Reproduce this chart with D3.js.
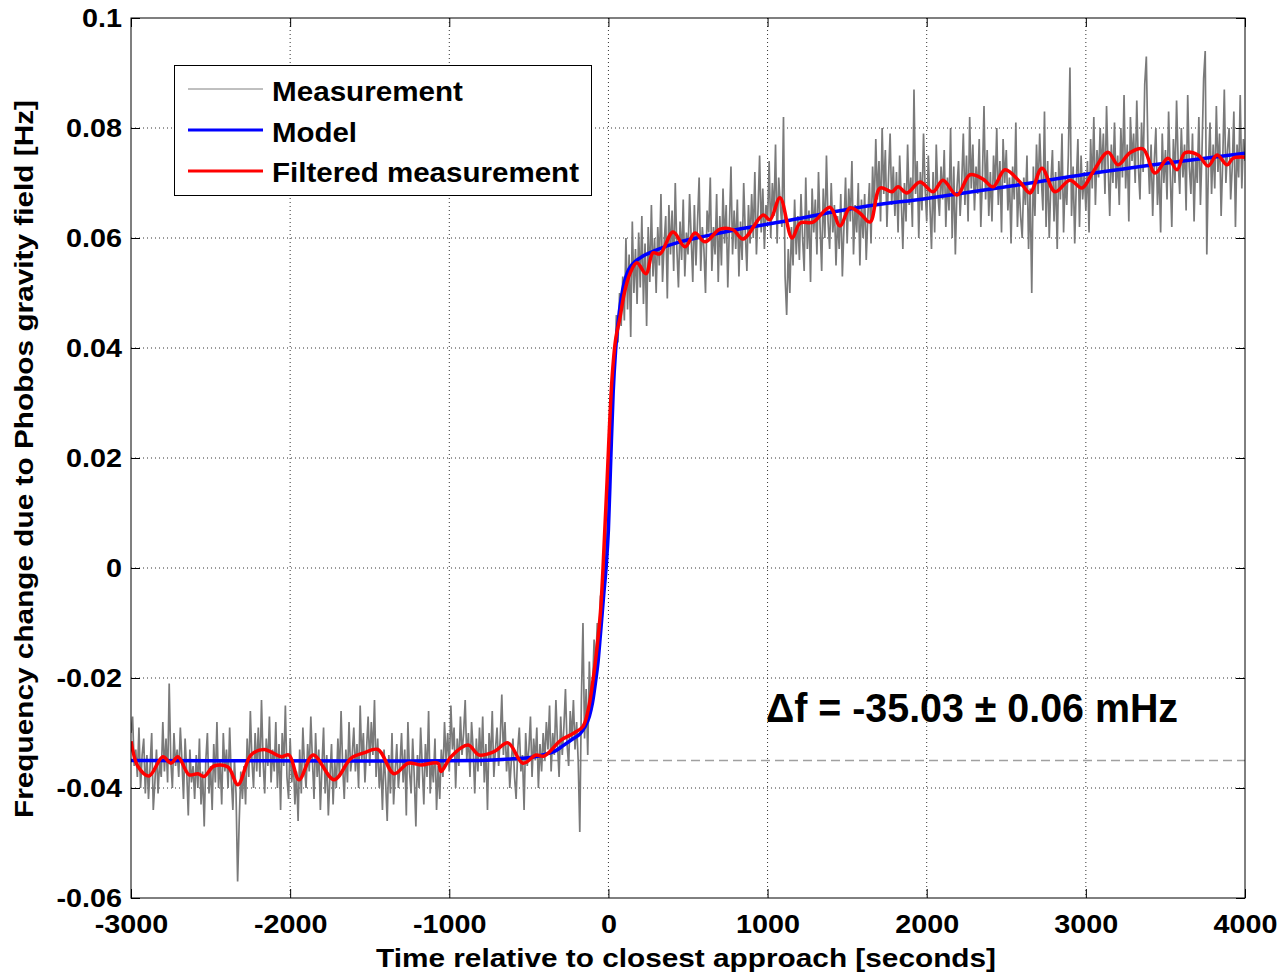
<!DOCTYPE html>
<html><head><meta charset="utf-8">
<script src="https://cdnjs.cloudflare.com/ajax/libs/d3/7.8.5/d3.min.js"></script>
<style>
body{margin:0;background:#fff}
svg{display:block}
text{font-family:"Liberation Sans",Arial,sans-serif;font-weight:bold;fill:#000}
</style>
</head><body>
<svg id="chart" width="1281" height="974"></svg>
<script>
// ---------- data ----------
const xTicks = [-3000,-2000,-1000,0,1000,2000,3000,4000];
const xTickLabels = ["-3000","-2000","-1000","0","1000","2000","3000","4000"];
const yTicks = [-0.06,-0.04,-0.02,0,0.02,0.04,0.06,0.08,0.1];
const yTickLabels = ["-0.06","-0.04","-0.02","0","0.02","0.04","0.06","0.08","0.1"];
const xTitle = "Time relative to closest approach [seconds]";
const yTitle = "Frequency change due to Phobos gravity field [Hz]";
const legendLabels = ["Measurement","Model","Filtered measurement"];
const annotation = "\u0394f = -35.03 \u00b1 0.06 mHz";
const referenceLevel = -0.035;   // Hz

// measurement, sampled every 10 s from -3000 s, values in mHz
const measStart = -3000, measStep = 10;
const measurement_mHz = [
-30,-27,-36,-33,-38,-29,-40,-34,-31,-41,
-34,-42,-36,-30,-44,-39,-33,-41,-35,-38,
-28,-37,-31,-39,-21,-35,-40,-30,-36,-33,
-38,-29,-35,-42,-31,-37,-45,-33,-39,-36,
-42,-34,-40,-31,-43,-37,-47,-35,-30,-41,
-36,-44,-32,-39,-28,-40,-35,-43,-30,-37,
-33,-40,-29,-38,-44,-35,-41,-57,-46,-37,
-42,-36,-43,-31,-38,-26,-35,-40,-30,-37,
-29,-38,-24,-35,-41,-31,-36,-27,-39,-33,
-37,-28,-40,-32,-44,-30,-36,-25,-38,-42,
-31,-39,-35,-43,-37,-46,-33,-41,-29,-36,
-40,-32,-37,-27,-35,-42,-30,-38,-33,-44,
-36,-29,-41,-34,-45,-38,-32,-43,-35,-40,
-31,-38,-26,-36,-42,-33,-39,-28,-37,-34,
-29,-37,-32,-40,-25,-35,-30,-39,-33,-27,
-36,-28,-34,-24,-38,-31,-40,-35,-44,-33,
-39,-46,-34,-41,-30,-43,-37,-32,-40,-36,
-30,-39,-33,-45,-28,-37,-41,-31,-38,-47,
-34,-40,-29,-36,-43,-32,-38,-26,-41,-35,
-39,-31,-44,-36,-42,-33,-38,-28,-35,-30,
-37,-25,-33,-29,-40,-31,-36,-27,-34,-30,
-24,-35,-30,-38,-28,-33,-41,-31,-37,-29,
-36,-27,-39,-32,-44,-30,-35,-26,-38,-33,
-29,-36,-31,-23,-34,-28,-37,-32,-40,-35,
-31,-38,-42,-33,-29,-37,-34,-44,-30,-36,
-33,-27,-38,-31,-35,-29,-40,-32,-37,-30,
-35,-28,-33,-25,-37,-30,-34,-24,-32,-38,
-27,-34,-29,-22,-32,-36,-26,-31,-24,-33,
-28,-35,-48,-24,-10,-31,-22,-34,-17,-26,
-22,-13,-18,-10,-14,-5,-9,-3,3,6,
12,22,25,36,37,46,41,50,44,53,
45,60,47,57,42,63,50,58,48,61,
51,64,48,59,44,62,52,66,53,60,
50,62,55,68,52,59,64,49,66,57,
65,54,70,58,51,63,56,67,53,61,
57,68,60,52,66,55,63,71,54,62,
58,50,65,61,71,54,62,57,68,52,
64,55,69,59,66,51,62,73,57,65,
58,67,53,63,56,70,61,54,66,59,
68,60,72,57,65,75,61,69,58,66,
63,74,60,70,64,77,59,71,66,62,
82,53,46,58,50,62,55,67,57,64,
56,68,60,54,71,58,65,52,69,61,
67,57,72,62,54,69,60,75,63,58,
70,61,66,55,64,58,68,53,62,71,
59,69,63,74,57,66,61,70,55,67,
60,68,56,64,70,59,73,65,78,67,
74,63,80,68,76,62,71,79,66,73,
64,72,61,75,67,58,70,63,77,66,
71,62,87,68,74,60,72,65,79,69,
63,75,66,58,72,61,77,68,64,73,
67,76,62,71,65,80,60,73,57,69,
74,64,70,79,66,75,63,82,69,77,
65,73,68,78,62,71,84,67,76,64,
72,63,75,69,80,66,74,61,78,70,
76,65,71,59,73,67,81,62,70,64,
60,71,66,75,58,69,50,73,64,77,
68,79,71,65,83,62,74,60,70,76,
63,72,58,74,67,79,61,71,66,75,
91,64,73,59,70,78,62,75,67,72,
65,74,61,78,69,82,66,76,71,80,
72,79,68,84,73,64,77,70,81,69,
75,66,80,71,86,69,77,63,82,74,
79,70,85,73,67,81,72,88,93,76,
68,77,64,74,80,66,73,61,79,70,
76,67,83,72,62,78,70,85,74,68,
80,71,77,65,86,73,68,79,63,75,
70,82,66,76,89,94,57,73,81,68,
77,69,84,72,79,64,74,87,70,76,
80,67,73,83,62,77,71,86,69,78,
74];

// model (s, mHz)
const modelTime  = [-3000,-1500,-800,-600,-480,-400,-330,-280,-220,-180,-150,-120,-100,-80,-65,-50,-30,-15,0,15,30,45,60,80,100,120,150,200,300,450,600,800,1078,1581,2000,2542,3000,3500,4000];
const modelValue = [-35.0,-35.1,-35.0,-34.7,-34.4,-33.9,-33.2,-32.2,-31.0,-30.2,-29.0,-27.0,-24.5,-20.5,-17.0,-12.0,-5.0,0,7,20,32,39.5,44.5,49,52,53.8,55.2,56.4,57.8,59.3,60.3,61.5,62.9,65.6,67.2,69.5,71.6,73.6,75.4];

// filtered measurement (s, mHz)
const filteredTime  = [-3000,-2956,-2887,-2800,-2749,-2705,-2635,-2580,-2541,-2478,-2391,-2328,-2246,-2164,-2057,-2007,-1944,-1856,-1724,-1618,-1536,-1448,-1347,-1259,-1178,-1071,-1052,-989,-882,-813,-719,-631,-537,-455,-405,-298,-216,-160,-125,-95,-70,-50,-34,-9,22,45,73,100,136,179,236,280,324,406,481,544,607,701,783,846,972,1015,1078,1154,1204,1286,1392,1455,1518,1581,1644,1707,1782,1820,1876,1958,2040,2102,2190,2272,2354,2417,2492,2586,2649,2724,2806,2900,2976,3045,3139,3202,3277,3359,3435,3516,3573,3623,3705,3768,3824,3887,3925,4000];
const filteredValue = [-31.5,-36.1,-37.8,-34.3,-35.5,-34.3,-37.6,-37.4,-37.9,-36.0,-36.2,-39.4,-34.0,-33.0,-34.3,-34.0,-38.5,-34.0,-38.5,-34.6,-33.6,-33.0,-37.4,-35.5,-35.8,-35.5,-37.0,-34.3,-32.2,-34.0,-33.4,-31.8,-35.5,-34.0,-34.2,-31.3,-30.0,-28.8,-25.5,-20.0,-14.0,-8.0,0,15.5,34.2,41.5,45.6,50.0,53.6,55.5,53.5,57.3,57.1,61.1,58.4,60.9,59.3,61.6,61.5,59.8,64.2,63.3,67.3,60.0,62.7,62.9,65.6,62.2,65.5,64.5,62.9,69.1,68.4,69.3,68.2,70.2,68.4,70.5,67.8,71.5,70.7,69.3,72.4,70.2,68.2,72.7,68.4,70.5,69.1,72.0,75.6,73.3,75.5,76.2,71.8,74.5,72.4,75.5,75.1,73.1,75.1,73.3,74.5,74.7];

// ---------- drawing ----------
const svg = d3.select("#chart");
const L = 131, R = 1245, T = 18, B = 898;
const x = d3.scaleLinear().domain([-3000,4000]).range([L,R]);
const y = d3.scaleLinear().domain([-0.06,0.1]).range([B,T]);
const mHz = v => v/1000;

// grid
const grid = svg.append("g").attr("stroke","#333").attr("stroke-width",1).attr("stroke-dasharray","1,3");
xTicks.slice(1,-1).forEach(t => grid.append("line").attr("x1",x(t)).attr("x2",x(t)).attr("y1",T).attr("y2",B));
yTicks.slice(1,-1).forEach(v => grid.append("line").attr("x1",L).attr("x2",R).attr("y1",y(v)).attr("y2",y(v)));

// reference dashed line
svg.append("line").attr("x1",L).attr("x2",R).attr("y1",y(referenceLevel)).attr("y2",y(referenceLevel))
  .attr("stroke","#a0a0a0").attr("stroke-width",1.6).attr("stroke-dasharray","9,5");

svg.append("clipPath").attr("id","clip").append("rect").attr("x",L).attr("y",T).attr("width",R-L).attr("height",B-T);
const plot = svg.append("g").attr("clip-path","url(#clip)");

// measurement
const measData = measurement_mHz.map((v,i) => [measStart + i*measStep, mHz(v)]);
plot.append("path").datum(measData)
  .attr("fill","none").attr("stroke","#7a7a7a").attr("stroke-width",1.7).attr("stroke-linejoin","bevel")
  .attr("d", d3.line().x(d=>x(d[0])).y(d=>y(d[1])));

// model
const modelData = modelTime.map((t,i)=>[t, mHz(modelValue[i])]);
plot.append("path").datum(modelData)
  .attr("fill","none").attr("stroke","#0000ff").attr("stroke-width",3.5)
  .attr("d", d3.line().curve(d3.curveMonotoneX).x(d=>x(d[0])).y(d=>y(d[1])));

// filtered
const filtData = filteredTime.map((t,i)=>[t, mHz(filteredValue[i])]);
plot.append("path").datum(filtData)
  .attr("fill","none").attr("stroke","#ff0000").attr("stroke-width",3.5).attr("stroke-linejoin","round")
  .attr("d", d3.line().curve(d3.curveCatmullRom.alpha(0.5)).x(d=>x(d[0])).y(d=>y(d[1])));

// axes (inward ticks)
function styleAxis(g){ g.select(".domain").remove(); g.selectAll(".tick line").attr("stroke","#000"); }
const stretch = function(){
  const w = this.getComputedTextLength();
  d3.select(this).attr("textLength", w*1.15).attr("lengthAdjust","spacingAndGlyphs");
};
const xAxisG = svg.append("g").attr("transform",`translate(0,${B})`)
  .call(d3.axisBottom(x).tickValues(xTicks).tickFormat((d,i)=>xTickLabels[i]).tickSize(-9).tickPadding(17))
  .call(styleAxis);
xAxisG.selectAll("text").attr("font-size",25).attr("font-family","Liberation Sans, Arial, sans-serif").attr("font-weight","bold").each(stretch);

const yAxisG = svg.append("g").attr("transform",`translate(${L},0)`)
  .call(d3.axisLeft(y).tickValues(yTicks).tickFormat((d,i)=>yTickLabels[i]).tickSize(-9).tickPadding(9))
  .call(styleAxis);
yAxisG.selectAll("text").attr("font-size",25).attr("font-family","Liberation Sans, Arial, sans-serif").attr("font-weight","bold").each(stretch);

svg.append("g").attr("transform",`translate(0,${T})`)
  .call(d3.axisTop(x).tickValues(xTicks).tickFormat("").tickSize(-9)).call(styleAxis);
svg.append("g").attr("transform",`translate(${R},0)`)
  .call(d3.axisRight(y).tickValues(yTicks).tickFormat("").tickSize(-9)).call(styleAxis);

// frame
svg.append("rect").attr("x",L).attr("y",T).attr("width",R-L).attr("height",B-T)
  .attr("fill","none").attr("stroke","#000").attr("stroke-width",1);

// axis titles
svg.append("text").attr("x",(376+996)/2).attr("y",967).attr("text-anchor","middle")
  .attr("font-size",26).attr("textLength",620).attr("lengthAdjust","spacingAndGlyphs").text(xTitle);
svg.append("text").attr("transform","translate(33,459) rotate(-90)").attr("text-anchor","middle")
  .attr("font-size",25).attr("textLength",718).attr("lengthAdjust","spacingAndGlyphs").text(yTitle);

// legend
const lg = svg.append("g");
lg.append("rect").attr("x",174.5).attr("y",65.5).attr("width",417).attr("height",130)
  .attr("fill","#fff").attr("stroke","#000").attr("stroke-width",1);
const legStyles = [{c:"#808080",w:1},{c:"#0000ff",w:3},{c:"#ff0000",w:3}];
const legLineY = [89,130,171], legTextY = [101,142,182], legTextW = [191,85,307];
legendLabels.forEach((lab,i)=>{
  lg.append("line").attr("x1",188).attr("x2",263).attr("y1",legLineY[i]).attr("y2",legLineY[i])
    .attr("stroke",legStyles[i].c).attr("stroke-width",legStyles[i].w);
  lg.append("text").attr("x",272).attr("y",legTextY[i]).attr("font-size",27)
    .attr("textLength",legTextW[i]).attr("lengthAdjust","spacingAndGlyphs").text(lab);
});

// annotation
svg.append("text").attr("x",766).attr("y",722)
  .attr("font-family","Liberation Serif, Times New Roman, serif").attr("font-weight","bold")
  .attr("font-size",40).attr("textLength",412).attr("lengthAdjust","spacingAndGlyphs").text(annotation);
</script>
</body></html>
